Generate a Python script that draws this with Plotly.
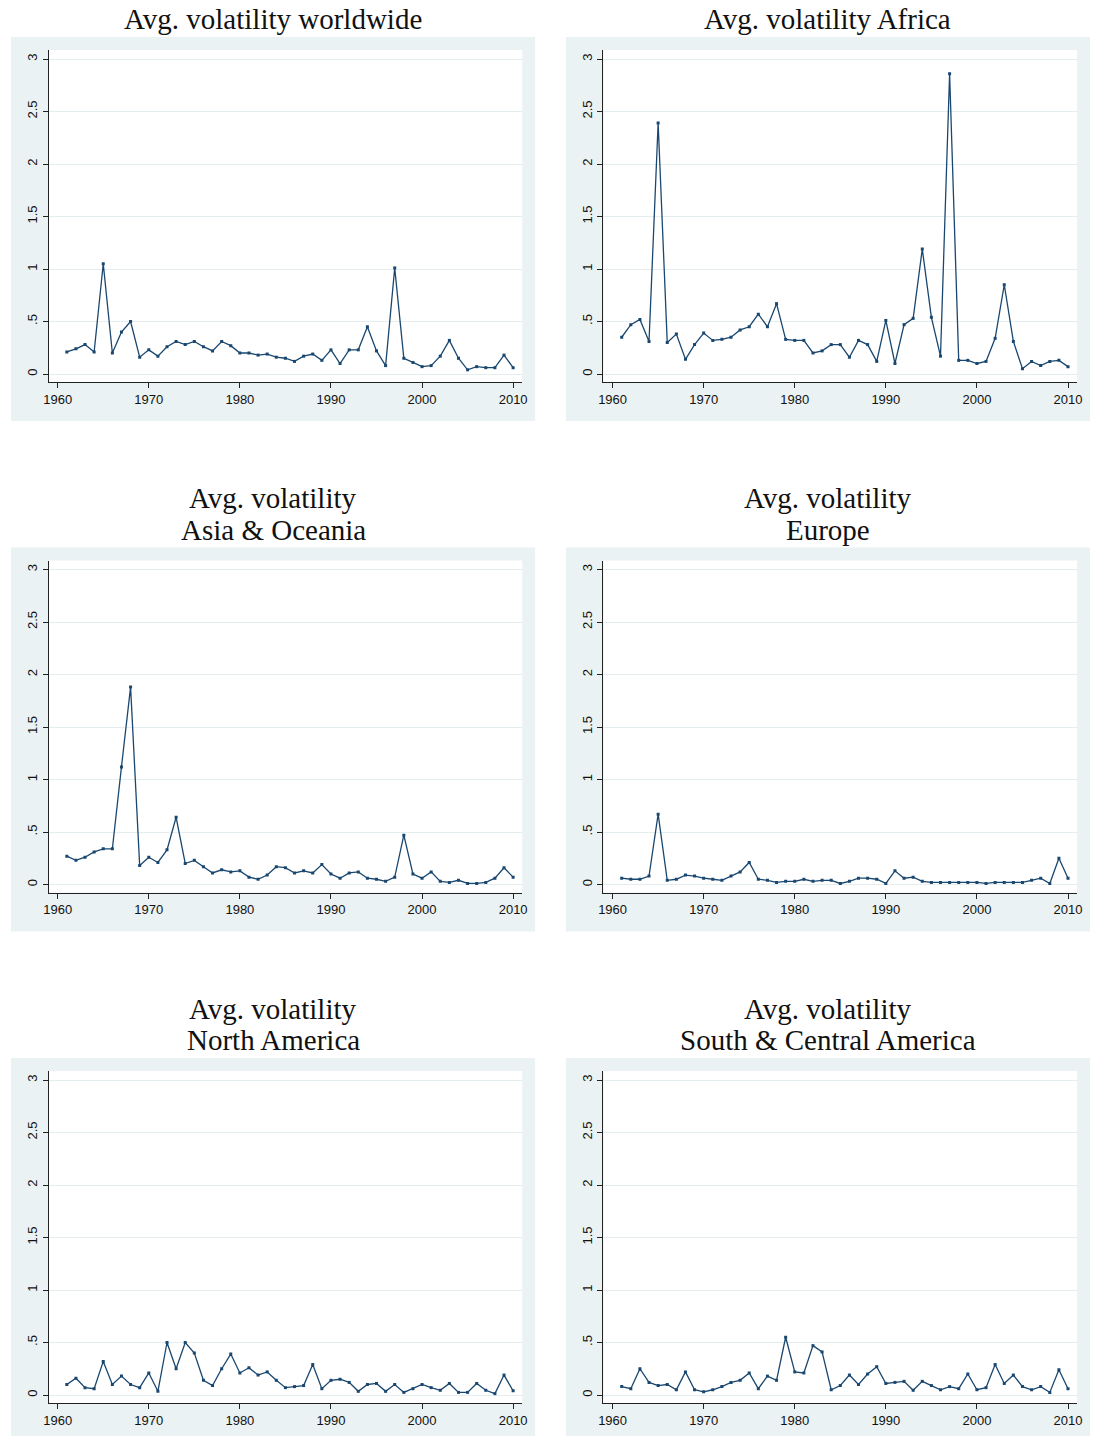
import plotly.graph_objects as go

years = list(range(1961, 2011))

worldwide = [0.21, 0.24, 0.28, 0.21, 1.05, 0.20, 0.40, 0.50, 0.16, 0.23,
             0.17, 0.26, 0.31, 0.28, 0.31, 0.26, 0.22, 0.31, 0.27, 0.20,
             0.20, 0.18, 0.19, 0.16, 0.15, 0.12, 0.17, 0.19, 0.13, 0.23,
             0.10, 0.23, 0.23, 0.45, 0.22, 0.08, 1.01, 0.15, 0.11, 0.07,
             0.08, 0.17, 0.32, 0.15, 0.04, 0.07, 0.06, 0.06, 0.18, 0.06]

africa = [0.35, 0.47, 0.52, 0.31, 2.39, 0.30, 0.38, 0.14, 0.28, 0.39,
          0.32, 0.33, 0.35, 0.42, 0.45, 0.57, 0.45, 0.67, 0.33, 0.32,
          0.32, 0.20, 0.22, 0.28, 0.28, 0.16, 0.32, 0.28, 0.12, 0.51,
          0.10, 0.47, 0.53, 1.19, 0.54, 0.17, 2.86, 0.13, 0.13, 0.10,
          0.12, 0.34, 0.85, 0.31, 0.05, 0.12, 0.08, 0.12, 0.13, 0.07]

asia_oceania = [0.27, 0.23, 0.26, 0.31, 0.34, 0.34, 1.12, 1.88, 0.18, 0.26,
                0.21, 0.33, 0.64, 0.20, 0.23, 0.17, 0.11, 0.14, 0.12, 0.13,
                0.07, 0.05, 0.09, 0.17, 0.16, 0.11, 0.13, 0.11, 0.19, 0.10,
                0.06, 0.11, 0.12, 0.06, 0.05, 0.03, 0.07, 0.47, 0.10, 0.06,
                0.12, 0.03, 0.02, 0.04, 0.01, 0.01, 0.02, 0.06, 0.16, 0.07]

europe = [0.06, 0.05, 0.05, 0.08, 0.67, 0.04, 0.05, 0.09, 0.08, 0.06,
          0.05, 0.04, 0.08, 0.12, 0.21, 0.05, 0.04, 0.02, 0.03, 0.03,
          0.05, 0.03, 0.04, 0.04, 0.01, 0.03, 0.06, 0.06, 0.05, 0.01,
          0.13, 0.06, 0.07, 0.03, 0.02, 0.02, 0.02, 0.02, 0.02, 0.02,
          0.01, 0.02, 0.02, 0.02, 0.02, 0.04, 0.06, 0.01, 0.25, 0.06]

north_america = [0.10, 0.16, 0.07, 0.06, 0.32, 0.10, 0.18, 0.10, 0.07, 0.21,
                 0.035, 0.50, 0.25, 0.50, 0.40, 0.14, 0.09, 0.25, 0.39, 0.21,
                 0.26, 0.19, 0.22, 0.14, 0.07, 0.08, 0.09, 0.29, 0.06, 0.14,
                 0.15, 0.12, 0.035, 0.10, 0.11, 0.035, 0.10, 0.025, 0.06, 0.10,
                 0.07, 0.045, 0.11, 0.025, 0.025, 0.11, 0.045, 0.013, 0.19, 0.04]

south_central_america = [0.08, 0.06, 0.25, 0.12, 0.09, 0.10, 0.05, 0.22, 0.05, 0.03,
                         0.05, 0.08, 0.12, 0.14, 0.21, 0.06, 0.18, 0.14, 0.55, 0.22,
                         0.21, 0.47, 0.41, 0.05, 0.09, 0.19, 0.10, 0.20, 0.27, 0.11,
                         0.12, 0.13, 0.045, 0.13, 0.09, 0.05, 0.08, 0.06, 0.20, 0.05,
                         0.07, 0.29, 0.11, 0.19, 0.08, 0.05, 0.08, 0.025, 0.24, 0.06]

panel_titles = [
    ["Avg. volatility worldwide"],
    ["Avg. volatility Africa"],
    ["Avg. volatility", "Asia & Oceania"],
    ["Avg. volatility", "Europe"],
    ["Avg. volatility", "North America"],
    ["Avg. volatility", "South & Central America"],
]
panel_series = [worldwide, africa, asia_oceania, europe, north_america, south_central_america]

y_tickvals = [0, 0.5, 1, 1.5, 2, 2.5, 3]
y_ticktext = ["0", ".5", "1", "1.5", "2", "2.5", "3"]
x_tickvals = [1960, 1970, 1980, 1990, 2000, 2010]
x_ticktext = ["1960", "1970", "1980", "1990", "2000", "2010"]

W, H = 1095, 1436
LINE = "#1A476F"
BG = "#EAF2F3"
GRID = "#E4EEF0"
ROW_STEP = 510.5

fig = go.Figure()
bg_shapes = []
white_shapes = []
annotations = []
layout_axes = {}

for i, (title_lines, vals) in enumerate(zip(panel_titles, panel_series)):
    r, c = divmod(i, 2)
    bg_x0, bg_x1 = (6, 535) if c == 0 else (566, 1095)
    pl_x0, pl_x1 = (44, 522) if c == 0 else (604, 1082)
    bg_y0, bg_y1 = 37 + ROW_STEP * r, 421 + ROW_STEP * r
    pl_y0, pl_y1 = 50 + ROW_STEP * r, 382 + ROW_STEP * r

    bg_shapes.append(dict(type="rect", xref="paper", yref="paper",
                          x0=bg_x0 / W, x1=bg_x1 / W,
                          y0=1 - bg_y1 / H, y1=1 - bg_y0 / H,
                          fillcolor=BG, line=dict(width=0), layer="below"))
    white_shapes.append(dict(type="rect", xref="paper", yref="paper",
                             x0=pl_x0 / W, x1=pl_x1 / W,
                             y0=1 - pl_y1 / H, y1=1 - pl_y0 / H,
                             fillcolor="white", line=dict(width=0), layer="below"))

    n = i + 1
    xa = "xaxis" if n == 1 else f"xaxis{n}"
    ya = "yaxis" if n == 1 else f"yaxis{n}"
    xr = "x" if n == 1 else f"x{n}"
    yr = "y" if n == 1 else f"y{n}"

    fig.add_trace(go.Scatter(
        x=years, y=vals, mode="lines+markers", xaxis=xr, yaxis=yr,
        line=dict(color=LINE, width=1.3),
        marker=dict(symbol="square", size=3, color=LINE),
        showlegend=False, hoverinfo="x+y"))

    layout_axes[xa] = dict(
        domain=[pl_x0 / W, pl_x1 / W], anchor=yr,
        range=[1959.0, 2011.0], tickmode="array",
        tickvals=x_tickvals, ticktext=x_ticktext,
        showgrid=False, zeroline=False, showline=True,
        linecolor="#222222", linewidth=1, ticks="outside", ticklen=5,
        tickcolor="#222222", tickwidth=1,
        tickfont=dict(family="Liberation Sans", size=13, color="#111111"),
        fixedrange=True)
    layout_axes[ya] = dict(
        domain=[1 - pl_y1 / H, 1 - pl_y0 / H], anchor=xr,
        range=[-8 / 105, 3 + 9 / 105], tickmode="array",
        tickvals=y_tickvals, ticktext=y_ticktext, tickangle=-90,
        showgrid=True, gridcolor=GRID, gridwidth=1,
        zeroline=False, showline=True,
        linecolor="#222222", linewidth=1, ticks="outside", ticklen=5,
        tickcolor="#222222", tickwidth=1,
        tickfont=dict(family="Liberation Sans", size=13, color="#111111"),
        fixedrange=True)

    cx = (bg_x0 + bg_x1) / 2 / W
    nlines = len(title_lines)
    for k, line in enumerate(title_lines):
        pix = bg_y0 - 18 - 31 * (nlines - 1 - k)
        annotations.append(dict(
            text=line, xref="paper", yref="paper", x=cx, y=1 - pix / H,
            xanchor="center", yanchor="middle", showarrow=False,
            font=dict(family="Liberation Serif", size=29, color="#111111")))

fig.update_layout(
    width=W, height=H, autosize=False,
    margin=dict(l=0, r=0, t=0, b=0),
    paper_bgcolor="white", plot_bgcolor="white",
    shapes=bg_shapes + white_shapes, annotations=annotations,
    **layout_axes)

fig.write_html("out.html",
               config={"displayModeBar": False},
               post_script="document.body.style.margin='0';document.body.style.overflow='hidden';")
